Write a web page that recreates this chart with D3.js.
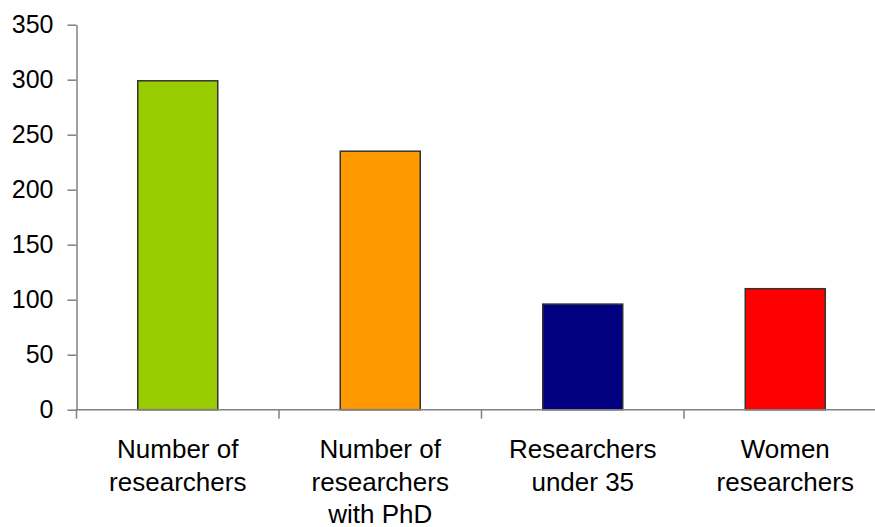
<!DOCTYPE html>
<html>
<head>
<meta charset="utf-8">
<script src="https://cdn.jsdelivr.net/npm/d3@7"></script>
<style>
  html, body { margin: 0; padding: 0; background: #fff; }
  svg { display: block; }
  text { font-family: "Liberation Sans", Arial, sans-serif; fill: #000; }
</style>
</head>
<body>
<svg id="chart" width="875" height="527"></svg>
<script>
// categories as lines of the wrapped axis label
var categories = [
    ["Number of", "researchers"],
    ["Number of", "researchers", "with PhD"],
    ["Researchers", "under 35"],
    ["Women", "researchers"]
];
var values = [299, 235, 96, 110];
var colors = ["#99CC00", "#FF9900", "#000080", "#FF0000"];
var yTicks = [0, 50, 100, 150, 200, 250, 300, 350];

var svg = d3.select("#chart");

var plotLeft = 76.5, plotRight = 886.5, plotTop = 24.7, plotBottom = 409.7;

var keys = categories.map(function(c, i) { return i; });

var x = d3.scaleBand()
    .domain(keys)
    .range([plotLeft, plotRight])
    .paddingInner(0.605)
    .paddingOuter(0.3025);

var y = d3.scaleLinear()
    .domain([0, 350])
    .range([plotBottom, plotTop]);

var axisColor = "#808080";

// y axis
var yAxis = svg.append("g")
    .attr("transform", "translate(" + plotLeft + ",0)")
    .call(d3.axisLeft(y).tickValues(yTicks).tickSize(9).tickPadding(14).tickSizeOuter(0));

yAxis.select(".domain").attr("stroke", axisColor).attr("stroke-width", 1.5);
yAxis.selectAll(".tick line").attr("stroke", axisColor).attr("stroke-width", 1.5);
yAxis.selectAll(".tick text")
    .style("font-family", "Liberation Sans, Arial, sans-serif")
    .style("font-size", "25px")
    .attr("fill", "#000");

// bars
svg.append("g").selectAll("rect")
    .data(values)
    .enter().append("rect")
    .attr("x", function(d, i) { return x(i); })
    .attr("y", function(d) { return y(d); })
    .attr("width", x.bandwidth())
    .attr("height", function(d) { return y(0) - y(d); })
    .attr("fill", function(d, i) { return colors[i]; })
    .attr("stroke", "#333")
    .attr("stroke-width", 1.5);

// x axis line and category separators
svg.append("line")
    .attr("x1", plotLeft).attr("x2", 875)
    .attr("y1", y(0)).attr("y2", y(0))
    .attr("stroke", axisColor).attr("stroke-width", 1.5);

var half = x.step() * x.paddingInner() / 2;
svg.append("g").selectAll("line")
    .data(keys)
    .enter().append("line")
    .attr("x1", function(i) { return x(i) - half; })
    .attr("x2", function(i) { return x(i) - half; })
    .attr("y1", y(0))
    .attr("y2", y(0) + 9)
    .attr("stroke", axisColor)
    .attr("stroke-width", 1.5);

// category labels
var labels = svg.append("g").selectAll("text")
    .data(categories)
    .enter().append("text")
    .attr("text-anchor", "middle")
    .style("font-size", "26px")
    .attr("x", function(d, i) { return x(i) + x.bandwidth() / 2; })
    .attr("y", 458);

labels.selectAll("tspan")
    .data(function(d, i) { return d.map(function(s) { return { s: s, i: i }; }); })
    .enter().append("tspan")
    .attr("x", function(d) { return x(d.i) + x.bandwidth() / 2; })
    .attr("dy", function(d, j) { return j === 0 ? 0 : 32.5; })
    .text(function(d) { return d.s; });
</script>
</body>
</html>
